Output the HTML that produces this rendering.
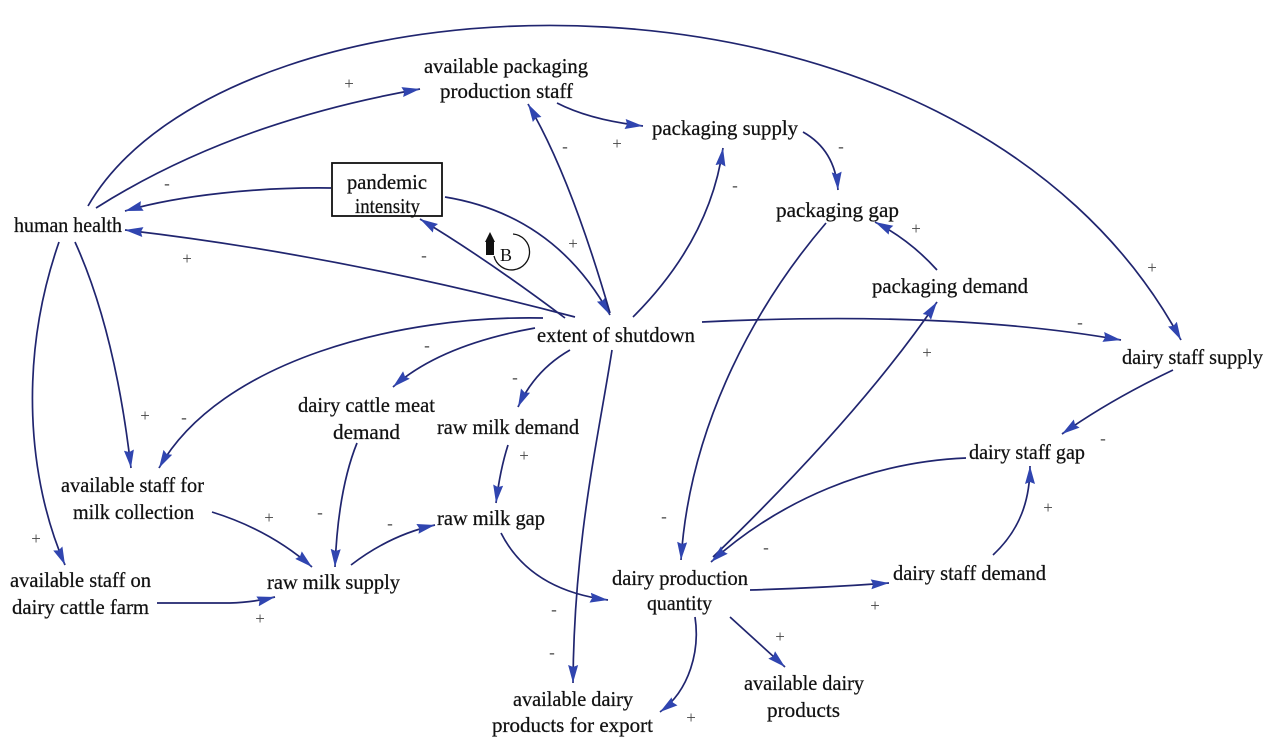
<!DOCTYPE html>
<html><head><meta charset="utf-8">
<style>
html,body{margin:0;padding:0;background:#fff;}
svg{display:block;}
text{font-family:"Liberation Serif",serif;}
.t{font-size:21px;fill:#111;stroke:#111;stroke-width:0.25;}
.s{font-size:17px;fill:#444;}
.e{fill:none;stroke:#20256f;stroke-width:1.7;}
</style></head>
<body>
<svg width="1280" height="747" viewBox="0 0 1280 747" xmlns="http://www.w3.org/2000/svg">
<defs>
<marker id="a" markerUnits="userSpaceOnUse" markerWidth="20" markerHeight="12" refX="18" refY="6" orient="auto">
<path d="M0,1 L18,6 L0,11 L2,6 Z" fill="#3045b0"/>
</marker>
</defs>
<rect width="1280" height="747" fill="#fff"/>

<!-- edges -->
<g class="e" marker-end="url(#a)">
<path d="M96,208 Q232,122 420,89"/>
<path d="M88,206 C230,-40 960,-70 1181,340"/>
<path d="M331,188 C260,187 180,195 125,211"/>
<path d="M575,317 Q340,255 125,230"/>
<path d="M565,318 Q485,258 420,219"/>
<path d="M445,197 Q555,215 610,315"/>
<path d="M610,313 Q570,175 528,104"/>
<path d="M557,103 Q590,120 643,126"/>
<path d="M633,317 Q710,240 723,148"/>
<path d="M803,132 Q835,150 838,190"/>
<path d="M937,270 Q910,240 875,222"/>
<path d="M826,223 C760,300 690,420 681,560"/>
<path d="M702,322 Q950,310 1121,340"/>
<path d="M713,557 Q860,415 937,302"/>
<path d="M1173,370 Q1110,400 1062,434"/>
<path d="M966,458 C870,462 780,500 711,562"/>
<path d="M993,555 C1020,530 1030,500 1030,466"/>
<path d="M750,590 Q820,588 889,583"/>
<path d="M730,617 L785,667"/>
<path d="M695,617 C700,650 690,690 660,712"/>
<path d="M612,350 C598,440 574,540 573,683"/>
<path d="M543,318 C400,315 220,360 159,468"/>
<path d="M535,328 Q440,345 393,387"/>
<path d="M570,350 Q535,370 518,407"/>
<path d="M75,242 Q115,330 131,468"/>
<path d="M59,242 C18,360 28,480 65,565"/>
<path d="M212,512 Q270,530 312,567"/>
<path d="M357,443 Q338,490 335,567"/>
<path d="M351,565 Q390,535 435,525"/>
<path d="M508,445 Q500,470 496,503"/>
<path d="M501,533 Q530,590 608,600"/>
<path d="M157,603 L230,603 Q255,602 275,597"/>
</g>

<!-- pandemic box -->
<rect x="332" y="163" width="110" height="53" fill="#fff" stroke="#111" stroke-width="1.8"/>

<!-- B loop -->
<path d="M513,234 A18,18 0 1 1 494,256" fill="none" stroke="#111" stroke-width="1.3"/>
<path d="M490,232 L495,242 L494,242 L494,255 L486,255 L486,242 L485,242 Z" fill="#111"/>
<text x="500" y="261" style="font-size:18px;fill:#111">B</text>

<!-- node labels -->
<g class="t">
<text x="424" y="73" textLength="164" lengthAdjust="spacingAndGlyphs">available packaging</text>
<text x="440" y="98" textLength="133" lengthAdjust="spacingAndGlyphs">production staff</text>
<text x="652" y="135" textLength="146" lengthAdjust="spacingAndGlyphs">packaging supply</text>
<text x="347" y="189" textLength="80" lengthAdjust="spacingAndGlyphs">pandemic</text>
<text x="355" y="213" textLength="65" lengthAdjust="spacingAndGlyphs">intensity</text>
<text x="14" y="232" textLength="108" lengthAdjust="spacingAndGlyphs">human health</text>
<text x="776" y="217" textLength="123" lengthAdjust="spacingAndGlyphs">packaging gap</text>
<text x="872" y="293" textLength="156" lengthAdjust="spacingAndGlyphs">packaging demand</text>
<text x="537" y="342" textLength="158" lengthAdjust="spacingAndGlyphs">extent of shutdown</text>
<text x="1122" y="364" textLength="141" lengthAdjust="spacingAndGlyphs">dairy staff supply</text>
<text x="298" y="412" textLength="137" lengthAdjust="spacingAndGlyphs">dairy cattle meat</text>
<text x="333" y="439" textLength="67" lengthAdjust="spacingAndGlyphs">demand</text>
<text x="437" y="434" textLength="142" lengthAdjust="spacingAndGlyphs">raw milk demand</text>
<text x="61" y="492" textLength="143" lengthAdjust="spacingAndGlyphs">available staff for</text>
<text x="73" y="519" textLength="121" lengthAdjust="spacingAndGlyphs">milk collection</text>
<text x="969" y="459" textLength="116" lengthAdjust="spacingAndGlyphs">dairy staff gap</text>
<text x="437" y="525" textLength="108" lengthAdjust="spacingAndGlyphs">raw milk gap</text>
<text x="10" y="587" textLength="141" lengthAdjust="spacingAndGlyphs">available staff on</text>
<text x="12" y="614" textLength="137" lengthAdjust="spacingAndGlyphs">dairy cattle farm</text>
<text x="267" y="589" textLength="133" lengthAdjust="spacingAndGlyphs">raw milk supply</text>
<text x="612" y="585" textLength="136" lengthAdjust="spacingAndGlyphs">dairy production</text>
<text x="647" y="610" textLength="65" lengthAdjust="spacingAndGlyphs">quantity</text>
<text x="893" y="580" textLength="153" lengthAdjust="spacingAndGlyphs">dairy staff demand</text>
<text x="744" y="690" textLength="120" lengthAdjust="spacingAndGlyphs">available dairy</text>
<text x="767" y="717" textLength="73" lengthAdjust="spacingAndGlyphs">products</text>
<text x="513" y="706" textLength="120" lengthAdjust="spacingAndGlyphs">available dairy</text>
<text x="492" y="732" textLength="161" lengthAdjust="spacingAndGlyphs">products for export</text>
</g>

<!-- polarity signs -->
<g class="s" text-anchor="middle">
<text x="349" y="89">+</text>
<text x="1152" y="273">+</text>
<text x="167" y="189">-</text>
<text x="187" y="264">+</text>
<text x="424" y="261">-</text>
<text x="573" y="249">+</text>
<text x="565" y="152">-</text>
<text x="617" y="149">+</text>
<text x="735" y="191">-</text>
<text x="841" y="152">-</text>
<text x="916" y="234">+</text>
<text x="927" y="358">+</text>
<text x="1080" y="328">-</text>
<text x="1103" y="444">-</text>
<text x="1048" y="513">+</text>
<text x="664" y="522">-</text>
<text x="766" y="553">-</text>
<text x="875" y="611">+</text>
<text x="780" y="642">+</text>
<text x="691" y="723">+</text>
<text x="554" y="615">-</text>
<text x="552" y="658">-</text>
<text x="36" y="544">+</text>
<text x="145" y="421">+</text>
<text x="184" y="423">-</text>
<text x="269" y="523">+</text>
<text x="320" y="518">-</text>
<text x="390" y="529">-</text>
<text x="524" y="461">+</text>
<text x="260" y="624">+</text>
<text x="427" y="351">-</text>
<text x="515" y="383">-</text>
</g>
</svg>
</body></html>
